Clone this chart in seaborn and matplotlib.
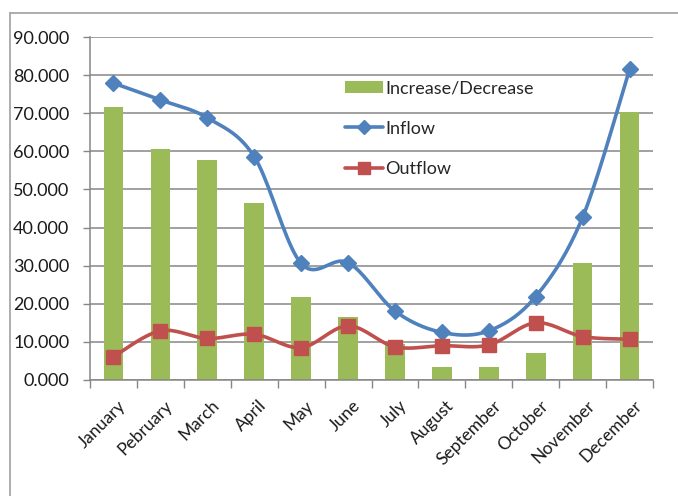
import numpy as np
import pandas as pd
import matplotlib
matplotlib.use("Agg")
import matplotlib.pyplot as plt
import matplotlib.transforms as mtransforms
import seaborn as sns
from matplotlib.lines import Line2D
from matplotlib.patches import Patch

months = ["January", "Pebruary", "March", "April", "May", "June", "July",
          "August", "September", "October", "November", "December"]
increase = [71.6, 60.5, 57.7, 46.5, 21.9, 16.5, 9.5, 3.3, 3.3, 7.2, 30.6, 70.4]
inflow = [77.9, 73.5, 68.8, 58.6, 30.6, 30.8, 18.1, 12.5, 12.9, 21.9, 42.7, 81.5]
outflow = [6.1, 12.9, 10.9, 12.0, 8.5, 14.2, 8.7, 9.0, 9.2, 15.0, 11.4, 10.7]
yticks = [0, 10, 20, 30, 40, 50, 60, 70, 80, 90]

GREEN = "#9BBB59"
BLUE = "#4F81BD"
RED = "#C0504D"

sns.set_theme(style="white")
plt.rcParams['font.family'] = ['Lato', 'DejaVu Sans']

fig = plt.figure(figsize=(6.78, 4.96), dpi=100)
ax = fig.add_axes([90/678, 1-380/496, (653-90)/678, (380-37)/496])

df = pd.DataFrame({"month": months, "value": increase})
sns.barplot(data=df, x="month", y="value", color=GREEN, width=0.42,
            saturation=1, ax=ax, zorder=2, edgecolor="none")


def smooth(y, n=20, tension=0.5):
    # Catmull-Rom style smoothing of the drawn path (Excel "smoothed line")
    y = np.asarray(y, float)
    x = np.arange(len(y), dtype=float)
    xs, ys = [], []
    last = len(y) - 1
    for i in range(last):
        p0 = (x[max(i-1, 0)], y[max(i-1, 0)])
        p1 = (x[i], y[i])
        p2 = (x[i+1], y[i+1])
        p3 = (x[min(i+2, last)], y[min(i+2, last)])
        m1 = ((p2[0]-p0[0]) * tension, (p2[1]-p0[1]) * tension)
        m2 = ((p3[0]-p1[0]) * tension, (p3[1]-p1[1]) * tension)
        t = np.linspace(0, 1, n, endpoint=(i == last - 1))
        h00 = 2*t**3 - 3*t**2 + 1
        h10 = t**3 - 2*t**2 + t
        h01 = -2*t**3 + 3*t**2
        h11 = t**3 - t**2
        xs.append(h00*p1[0] + h10*m1[0] + h01*p2[0] + h11*m2[0])
        ys.append(h00*p1[1] + h10*m1[1] + h01*p2[1] + h11*m2[1])
    return np.concatenate(xs), np.concatenate(ys)

xpos = np.arange(len(months))
sx, sy = smooth(inflow)
ax.plot(sx, sy, color=BLUE, lw=2.6, zorder=3, solid_capstyle="round")
ax.plot(xpos, inflow, linestyle="none", marker="D", ms=8, color=BLUE, zorder=4)
sx, sy = smooth(outflow)
ax.plot(sx, sy, color=RED, lw=2.6, zorder=3, solid_capstyle="round")
ax.plot(xpos, outflow, linestyle="none", marker="s", ms=10, color=RED, zorder=4)

ax.set_ylim(0, 90)
ax.set_xlim(-0.5, 11.5)
ax.set_yticks(yticks)
ax.set_yticklabels([f"{v:.3f}" for v in yticks], fontsize=13, color="#1a1a1a")
ax.set_xlabel("")
ax.set_ylabel("")
ax.yaxis.grid(True, color="#868686", lw=1.1, zorder=0)
ax.set_axisbelow(True)
for s in ["top", "right"]:
    ax.spines[s].set_visible(False)
for s in ["left", "bottom"]:
    ax.spines[s].set_color("#868686")
    ax.spines[s].set_linewidth(1.1)

# y ticks outward on left; x ticks between categories
ax.tick_params(axis="y", which="major", direction="out", length=5, width=1,
               color="#868686", left=True, pad=10)
ax.tick_params(axis="x", which="major", length=0, pad=6)
ax.set_xticks(np.arange(-0.5, 12.0, 1.0), minor=True)
ax.tick_params(axis="x", which="minor", direction="out", length=6, width=1,
               color="#868686", bottom=True)

ax.set_xticks(xpos)
ax.set_xticklabels(months, rotation=45, ha="right", rotation_mode="anchor",
                   fontsize=12.5, color="#1a1a1a")
offset = mtransforms.ScaledTranslation(4/100, -9/100, fig.dpi_scale_trans)
for lab in ax.xaxis.get_majorticklabels():
    lab.set_transform(lab.get_transform() + offset)

handles = [Patch(facecolor=GREEN, edgecolor="none", label="Increase/Decrease"),
           Line2D([0], [0], color=BLUE, lw=2.6, marker="D", ms=7, label="Inflow"),
           Line2D([0], [0], color=RED, lw=2.6, marker="s", ms=8, label="Outflow")]
ax.legend(handles=handles, loc="upper left", bbox_to_anchor=(0.44, 0.895),
          frameon=False, fontsize=13, handlelength=2.1, handletextpad=0.15,
          labelspacing=1.35, borderaxespad=0)

# chart area border (top and left visible)
fig.add_artist(Line2D([10/678, 1], [1-13/496, 1-13/496], color="#a0a0a0",
                      lw=1.2, transform=fig.transFigure))
fig.add_artist(Line2D([10/678, 10/678], [0, 1-13/496], color="#a0a0a0",
                      lw=1.2, transform=fig.transFigure))

fig.savefig("out.png", dpi=100)
